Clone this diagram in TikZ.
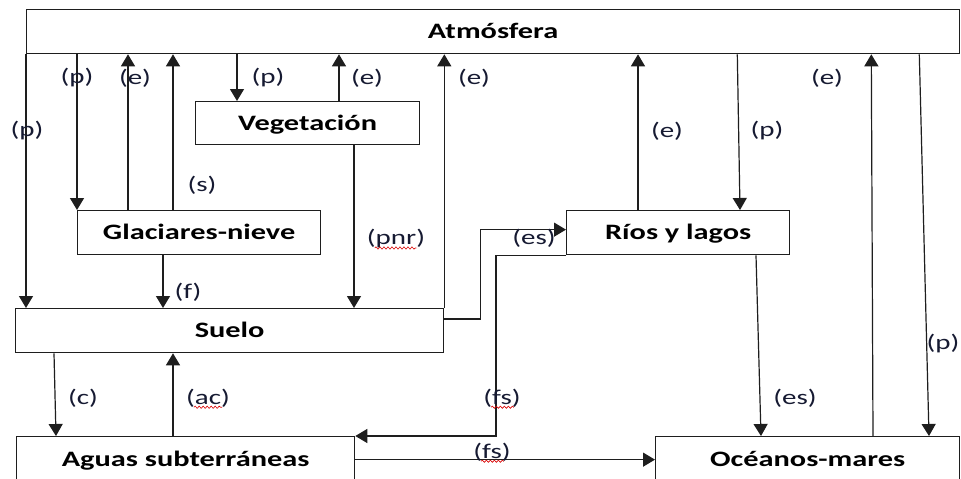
\documentclass[tikz,border=0pt]{standalone}
\usepackage{fontspec}
\setmainfont{Carlito}[FakeStretch=1.38]
\usetikzlibrary{arrows.meta,decorations.pathmorphing}
\definecolor{ink}{RGB}{30,30,30}
\definecolor{labink}{RGB}{22,26,50}
\begin{document}
\begin{tikzpicture}[x=1pt,y=-1pt,
  box/.style={draw=ink, line width=1.3pt, inner sep=0pt, anchor=north west,
    font=\fontsize{22pt}{26pt}\selectfont\bfseries, text=black,
    text height=14.5pt, text depth=0pt},
  flow/.style={draw=ink, line width=1.2pt, -{Triangle[length=12pt,width=14pt]}},
  lab/.style={font=\fontsize{21pt}{25pt}\selectfont, text=labink, inner sep=0pt},
  spell/.style={draw=red!85!black, line width=0.6pt, decorate,
    decoration={snake, amplitude=1.1pt, segment length=4pt}}]

\fill[white] (0,0) rectangle (961,479);
\clip (0,0) rectangle (961,479);

% compartments of the water cycle
\node[box, minimum width=933pt, minimum height=44pt] (atm)   at (26,9)    {Atmósfera};
\node[box, minimum width=224pt, minimum height=43pt] (veg)   at (195,101) {Vegetación};
\node[box, minimum width=243pt, minimum height=44pt] (glac)  at (77,210)  {Glaciares-nieve};
\node[box, minimum width=428pt, minimum height=44pt] (suelo) at (15,308)  {Suelo};
\node[box, minimum width=338pt, minimum height=46pt] (aguas) at (16,436)  {Aguas subterráneas};
\node[box, minimum width=223pt, minimum height=44pt] (rios)  at (566,210) {Ríos y lagos};
\node[box, minimum width=304pt, minimum height=46pt] (oce)   at (655,436) {Océanos-mares};

% reference points on the box edges
\path ([xshift=51pt]glac.north west)  coordinate (g1)
      ([xshift=96pt]glac.north west)  coordinate (g2)
      ([xshift=86pt]glac.south west)  coordinate (g3)
      ([xshift=42pt]veg.north west)   coordinate (v1)
      ([xshift=144pt]veg.north west)  coordinate (v2)
      ([xshift=159pt]veg.south west)  coordinate (v3)
      ([xshift=157pt]aguas.north west) coordinate (a1)
      ([xshift=72pt]rios.north west)  coordinate (r1);

% fluxes
\draw[flow] (atm.south west) -- (atm.south west |- suelo.north);
\draw[flow] (glac.north west |- atm.south) -- (glac.north west);
\draw[flow] (g1) -- (g1 |- atm.south);
\draw[flow] (g2) -- (g2 |- atm.south);
\draw[flow] (v1 |- atm.south) -- (v1);
\draw[flow] (v2) -- (v2 |- atm.south);
\draw[flow] (v3) -- (v3 |- suelo.north);
\draw[flow] (g3) -- (g3 |- suelo.north);
\draw[flow] (suelo.north east) -- (suelo.north east |- atm.south);
\draw[flow] ([yshift=-11pt]suelo.north east) -- ++(36,0) |- ([yshift=3pt]rios.west);
\draw[flow] (rios.south west) -- ++(-70,0) |- (aguas.north east);
\draw[flow] (aguas.east) -- (oce.west);
\draw[flow] ([xshift=39pt]suelo.south west) -- ([xshift=40pt]aguas.north west);
\draw[flow] (a1) -- (a1 |- suelo.south);
\draw[flow] (r1) -- (r1 |- atm.south);
\draw[flow] ([xshift=-223pt]atm.south east) -- ([xshift=174pt]rios.north west);
\draw[flow] ([xshift=190pt]rios.south west) -- ([xshift=106pt]oce.north west);
\draw[flow] ([xshift=218pt]oce.north west) -- ([xshift=-89pt]atm.south east);
\draw[flow] ([xshift=-41pt]atm.south east) -- ([xshift=274pt]oce.north west);

% flux labels
\node[lab] (l1)  at (77,78)   {(p)};
\node[lab] (l2)  at (135,78)  {(e)};
\node[lab] (l3)  at (27,131)  {(p)};
\node[lab] (l4)  at (202,185) {(s)};
\node[lab] (l5)  at (268,78)  {(p)};
\node[lab] (l6)  at (367,78)  {(e)};
\node[lab] (l7)  at (474,78)  {(e)};
\node[lab] (l8)  at (396,239) {(pnr)};
\node[lab] (l9)  at (188,292) {(f)};
\node[lab] (l10) at (667,131) {(e)};
\node[lab] (l11) at (767,131) {(p)};
\node[lab] (l12) at (827,78)  {(e)};
\node[lab] (l13) at (943,344) {(p)};
\node[lab] (l14) at (795,398) {(es)};
\node[lab] (l15) at (534,238) {(es)};
\node[lab] (l16) at (502,398) {(fs)};
\node[lab] (l17) at (492,452) {(fs)};
\node[lab] (l18) at (83,398)  {(c)};
\node[lab] (l19) at (208,398) {(ac)};

% spell-check underlines
\draw[spell] ([xshift=8pt,yshift=-3pt]l8.base west)  -- ([xshift=-9pt,yshift=-3pt]l8.base east);
\draw[spell] ([xshift=8pt,yshift=-3pt]l19.base west) -- ([xshift=-8pt,yshift=-3pt]l19.base east);
\draw[spell] ([xshift=8pt,yshift=-3pt]l16.base west) -- ([xshift=-7pt,yshift=-3pt]l16.base east);
\draw[spell] ([xshift=8pt,yshift=-3pt]l17.base west) -- ([xshift=-7pt,yshift=-3pt]l17.base east);
\end{tikzpicture}
\end{document}
